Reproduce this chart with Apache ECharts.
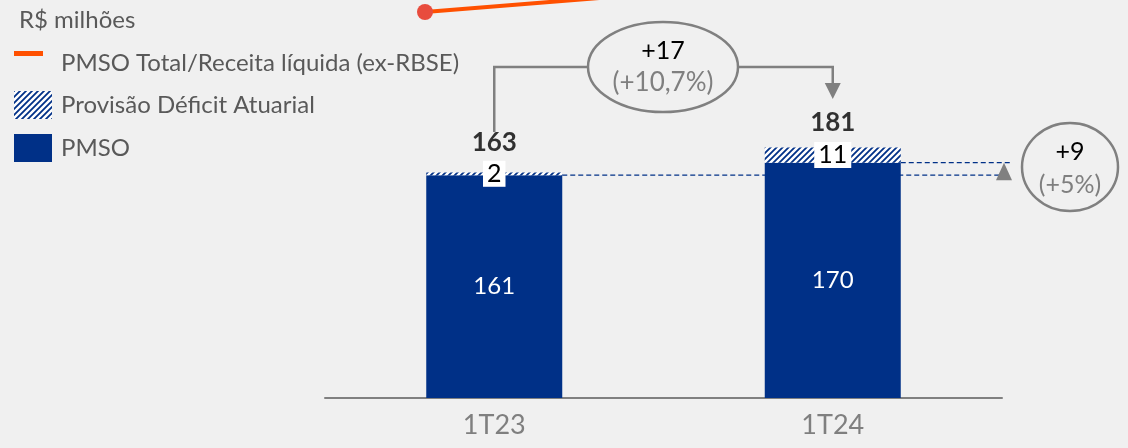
<!DOCTYPE html>
<html>
<head>
<meta charset="utf-8">
<script src="https://cdn.jsdelivr.net/npm/echarts@6/dist/echarts.min.js"></script>
<style>
  html, body { margin: 0; padding: 0; background: #f0f0f0; }
  #chart { width: 1128px; height: 448px; }
</style>
</head>
<body>
<div id="chart"></div>
<script>
const categories = ['1T23', '1T24']
const pmso = [161, 170]
const provisao = [2, 11]
const total = [163, 181]
// razão PMSO total / receita líquida (só um pedaço aparece no topo)
const ratio = [28.8, 34.3]

const FONT = 'Lato'
const BLUE = '#003087'
const GRAY = '#808080'

// textura hachurada para a provisão
const makeHatch = () => {
  const c = document.createElement('canvas')
  c.width = 6
  c.height = 6
  const ctx = c.getContext('2d')
  ctx.fillStyle = '#ffffff'
  ctx.fillRect(0, 0, 6, 6)
  ctx.strokeStyle = BLUE
  ctx.lineWidth = 1.8
  ctx.beginPath()
  ctx.moveTo(0, 6); ctx.lineTo(6, 0)
  ctx.moveTo(-1, 1); ctx.lineTo(1, -1)
  ctx.moveTo(5, 7); ctx.lineTo(7, 5)
  ctx.stroke()
  return c
}
const hatch = { image: makeHatch(), repeat: 'repeat' }

const chart = echarts.init(document.getElementById('chart'))

const option = {
  backgroundColor: '#f0f0f0',
  animation: false,
  title: {
    text: 'R$ milhões',
    left: 14,
    top: 3,
    textStyle: { fontFamily: FONT, fontSize: 24, fontWeight: 'normal', color: '#595959' }
  },
  legend: {
    orient: 'vertical',
    left: 9,
    top: 46,
    itemWidth: 38,
    itemHeight: 28,
    itemGap: 15,
    selectedMode: false,
    textStyle: { fontFamily: FONT, fontSize: 24, color: '#595959', padding: [0, 0, 0, 4] },
    data: [
      {
        name: 'PMSO Total/Receita líquida (ex-RBSE)',
        icon: 'path://M0,3H29V8H0Z M37.9,27.9H38V28H37.9Z',
        itemStyle: { color: '#ff5000' }
      },
      { name: 'Provisão Déficit Atuarial', icon: 'rect' },
      { name: 'PMSO', icon: 'rect' }
    ]
  },
  grid: [
    { left: 325, right: 126, top: 52, bottom: 50 },
    { left: 425, right: 18, top: 0, height: 100 }
  ],
  xAxis: [
    {
      type: 'category',
      data: categories,
      gridIndex: 0,
      axisTick: { show: false },
      axisLine: { lineStyle: { color: GRAY, width: 2 } },
      axisLabel: { color: '#7f7f7f', fontFamily: FONT, fontSize: 27, margin: 14 }
    },
    {
      type: 'category',
      data: categories,
      gridIndex: 1,
      boundaryGap: false,
      show: false
    }
  ],
  yAxis: [
    { type: 'value', gridIndex: 0, min: 0, max: 250, show: false },
    { type: 'value', gridIndex: 1, min: 20, max: 30, show: false }
  ],
  series: [
    {
      name: 'PMSO',
      type: 'bar',
      stack: 'pmso',
      data: pmso,
      barWidth: 136,
      itemStyle: { color: BLUE },
      label: {
        show: true,
        position: 'inside',
        color: '#ffffff',
        fontFamily: FONT,
        fontSize: 24
      }
    },
    {
      name: 'Provisão Déficit Atuarial',
      type: 'bar',
      stack: 'pmso',
      data: provisao,
      barWidth: 136,
      itemStyle: { color: hatch },
      label: {
        show: true,
        position: 'inside',
        color: '#000000',
        backgroundColor: '#ffffff',
        padding: [1, 4, 0, 4],
        fontFamily: FONT,
        fontSize: 25
      }
    },
    {
      name: 'total',
      type: 'scatter',
      symbolSize: 1,
      itemStyle: { color: 'rgba(0,0,0,0)' },
      data: [
        { value: total[0], label: { distance: 16 } },
        { value: total[1], label: { distance: 11 } }
      ],
      label: {
        show: true,
        position: 'top',
        color: '#000000',
        fontFamily: FONT,
        fontWeight: 'bold',
        fontSize: 26
      }
    },
    {
      name: 'PMSO Total/Receita líquida (ex-RBSE)',
      type: 'line',
      xAxisIndex: 1,
      yAxisIndex: 1,
      data: ratio,
      symbol: 'circle',
      symbolSize: 16,
      itemStyle: { color: '#e84c3d' },
      lineStyle: { color: '#ff5000', width: 4 }
    }
  ]
}

chart.setOption(option)

// anotações de variação, posicionadas a partir das barras
const px = (i, v) => chart.convertToPixel({ seriesIndex: 0 }, [i, v])
const a0 = px(0, pmso[0])
const a1 = px(1, pmso[1])
const half = 68
const ellTop = { cx: 663, cy: 67, rx: 75, ry: 45 }
const ellRight = { cx: 1070, cy: 167, rx: 48, ry: 44 }
const lineStyle = { stroke: GRAY, lineWidth: 2.5, fill: null }
const dashStyle = { stroke: BLUE, lineWidth: 1.3, lineDash: [5, 3] }
const txt = (x, y, text, color, size) => ({
  type: 'text',
  x: x,
  y: y,
  style: { text: text, fill: color, font: size + 'px ' + FONT, align: 'center', verticalAlign: 'middle' }
})

chart.setOption({
  graphic: [
    { type: 'polyline', shape: { points: [[a0[0], 132], [a0[0], ellTop.cy], [ellTop.cx - ellTop.rx, ellTop.cy]] }, style: lineStyle },
    { type: 'ellipse', shape: ellTop, style: lineStyle },
    { type: 'polyline', shape: { points: [[ellTop.cx + ellTop.rx, ellTop.cy], [a1[0], ellTop.cy], [a1[0], 84]] }, style: lineStyle },
    { type: 'polygon', shape: { points: [[a1[0] - 8, 83], [a1[0] + 8, 83], [a1[0], 99]] }, style: { fill: GRAY } },
    txt(ellTop.cx, 51, '+17', '#000000', 25),
    txt(ellTop.cx, 83, '(+10,7%)', '#7f7f7f', 26),

    { type: 'line', shape: { x1: a0[0] + half, y1: a0[1], x2: 1010, y2: a0[1] }, style: dashStyle },
    { type: 'line', shape: { x1: a1[0] + half, y1: a1[1], x2: 1010, y2: a1[1] }, style: dashStyle },
    { type: 'polygon', shape: { points: [[996, a0[1] + 5], [1012, a0[1] + 5], [1004, a1[1]]] }, style: { fill: GRAY } },
    { type: 'ellipse', shape: ellRight, style: lineStyle },
    txt(ellRight.cx, 152, '+9', '#000000', 25),
    txt(ellRight.cx, 185, '(+5%)', '#7f7f7f', 25)
  ]
})
</script>
</body>
</html>
